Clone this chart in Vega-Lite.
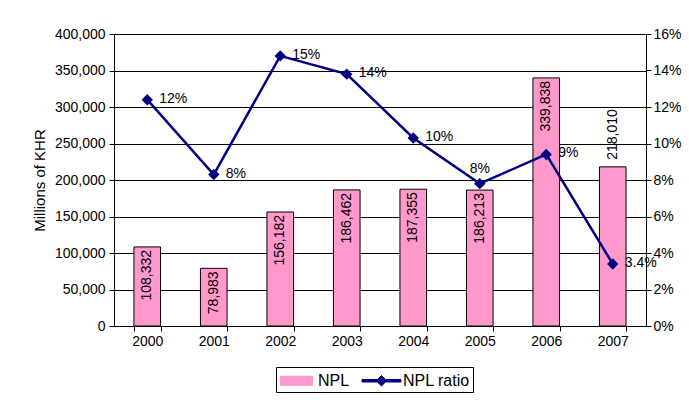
{
  "$schema": "https://vega.github.io/schema/vega-lite/v6.json",
  "width": 532,
  "height": 292,
  "autosize": {"type": "none"},
  "padding": {"left": 114, "top": 34, "right": 43, "bottom": 79},
  "background": "white",
  "config": {
    "view": {"stroke": null},
    "font": "Liberation Sans",
    "axis": {"labelFont": "Liberation Sans", "labelFontSize": 14, "labelColor": "black", "domainColor": "black", "tickColor": "black", "titleFont": "Liberation Sans", "titleFontWeight": "normal", "titleColor": "black"}
  },
  "data": {
    "values": [
      {"year": "2000", "npl": 108332, "ratio": 0.124, "label": "12%", "series": "NPL", "lseries": "NPL ratio"},
      {"year": "2001", "npl": 78983, "ratio": 0.083, "label": "8%", "series": "NPL", "lseries": "NPL ratio"},
      {"year": "2002", "npl": 156182, "ratio": 0.148, "label": "15%", "series": "NPL", "lseries": "NPL ratio"},
      {"year": "2003", "npl": 186462, "ratio": 0.138, "label": "14%", "series": "NPL", "lseries": "NPL ratio"},
      {"year": "2004", "npl": 187355, "ratio": 0.103, "label": "10%", "series": "NPL", "lseries": "NPL ratio"},
      {"year": "2005", "npl": 186213, "ratio": 0.078, "label": "8%", "series": "NPL", "lseries": "NPL ratio"},
      {"year": "2006", "npl": 339838, "ratio": 0.094, "label": "9%", "series": "NPL", "lseries": "NPL ratio"},
      {"year": "2007", "npl": 218010, "ratio": 0.034, "label": "3.4%", "series": "NPL", "lseries": "NPL ratio"}
    ]
  },
  "encoding": {
    "x": {
      "field": "year", "type": "ordinal",
      "scale": {"paddingInner": 0.6, "paddingOuter": 0.3},
      "axis": {"title": null, "labelAngle": 0, "tickBand": "extent", "tickSize": 5, "labelPadding": 3, "domainColor": "black"}
    }
  },
  "layer": [
    {
      "layer": [
        {
          "mark": {"type": "bar", "stroke": "black", "strokeWidth": 1},
          "encoding": {
            "y": {
              "field": "npl", "type": "quantitative",
              "scale": {"domain": [0, 400000]},
              "axis": {"title": "Millions of KHR", "titleFontSize": 15, "titlePadding": 7, "tickCount": 8, "format": ",d", "grid": true, "gridColor": "black", "gridWidth": 1, "tickSize": 5, "labelPadding": 4}
            },
            "color": {
              "field": "series", "type": "nominal",
              "scale": {"domain": ["NPL", "NPL ratio"], "range": ["#FF99CC", "#000080"]},
              "legend": {
                "orient": "none", "legendX": 162, "legendY": 333, "direction": "horizontal", "title": null,
                "strokeColor": "black", "padding": 3, "labelFont": "Liberation Sans", "labelFontSize": 16, "labelColor": "black",
                "symbolSize": 400, "columnPadding": 10, "labelOffset": 18,
                "symbolType": {"expr": "datum.value === 'NPL' ? 'M-0.9,-0.45L2.3,-0.45L2.3,0.45L-0.9,0.45Z' : 'M-1.25,-0.125L0.3,-0.125L0.7,-0.52L1.1,-0.125L2.65,-0.125L2.65,0.125L1.1,0.125L0.7,0.52L0.3,0.125L-1.25,0.125Z'"},
                "symbolStrokeColor": {"expr": "datum.value === 'NPL' ? 'black' : '#000080'"},
                "symbolStrokeWidth": 1,
                "symbolOpacity": 1
              }
            }
          }
        },
        {
          "transform": [{"filter": "datum.year !== '2007'"}],
          "mark": {"type": "text", "angle": 270, "align": "right", "baseline": "middle", "dx": -3, "fontSize": 14, "font": "Liberation Sans", "color": "black"},
          "encoding": {
            "y": {"field": "npl", "type": "quantitative", "scale": {"domain": [0, 400000]}},
            "text": {"field": "npl", "type": "quantitative", "format": ",d"}
          }
        },
        {
          "transform": [{"filter": "datum.year === '2007'"}],
          "mark": {"type": "text", "angle": 270, "align": "left", "baseline": "middle", "dx": 7, "fontSize": 14, "font": "Liberation Sans", "color": "black"},
          "encoding": {
            "y": {"field": "npl", "type": "quantitative", "scale": {"domain": [0, 400000]}},
            "text": {"field": "npl", "type": "quantitative", "format": ",d"}
          }
        }
      ]
    },
    {
      "layer": [
        {
          "mark": {"type": "line", "strokeWidth": 2.5, "color": "#000080"},
          "encoding": {
            "y": {
              "field": "ratio", "type": "quantitative",
              "scale": {"domain": [0, 0.16]},
              "axis": {"orient": "right", "title": null, "format": ".0%", "tickCount": 8, "grid": false, "tickSize": 5, "labelPadding": 2}
            },
            "color": {"field": "lseries", "type": "nominal", "legend": null}
          }
        },
        {
          "mark": {"type": "point", "shape": "diamond", "filled": true, "size": 130, "opacity": 1, "color": "#000080"},
          "encoding": {
            "y": {"field": "ratio", "type": "quantitative", "scale": {"domain": [0, 0.16]}}
          }
        },
        {
          "transform": [{"filter": "datum.year !== '2005'"}],
          "mark": {"type": "text", "align": "left", "baseline": "middle", "dx": 12, "dy": -1, "fontSize": 14, "font": "Liberation Sans", "color": "black"},
          "encoding": {
            "y": {"field": "ratio", "type": "quantitative", "scale": {"domain": [0, 0.16]}},
            "text": {"field": "label"}
          }
        },
        {
          "transform": [{"filter": "datum.year === '2005'"}],
          "mark": {"type": "text", "align": "center", "baseline": "bottom", "dy": -8, "fontSize": 14, "font": "Liberation Sans", "color": "black"},
          "encoding": {
            "y": {"field": "ratio", "type": "quantitative", "scale": {"domain": [0, 0.16]}},
            "text": {"field": "label"}
          }
        }
      ]
    }
  ],
  "resolve": {"scale": {"y": "independent"}}
}
